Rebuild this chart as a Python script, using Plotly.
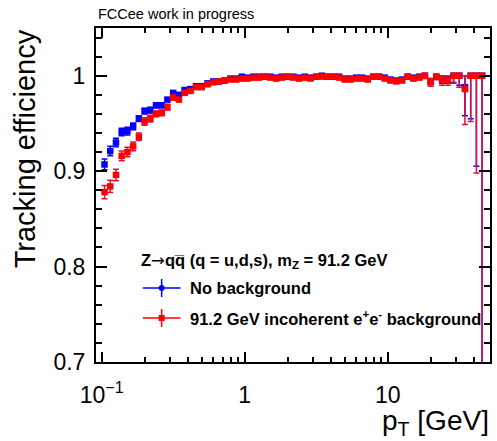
import plotly.graph_objects as go

# ---------------- data ----------------
pt_centers = [0.1047, 0.1148, 0.1259, 0.1380, 0.1514, 0.1660, 0.1820, 0.1995, 0.2188, 0.2399,
              0.2630, 0.2884, 0.3162, 0.3467, 0.3802, 0.4169, 0.4571, 0.5012, 0.5495, 0.6026,
              0.6607, 0.7244, 0.7943, 0.8710, 0.9550, 1.047, 1.148, 1.259, 1.380, 1.514,
              1.660, 1.820, 1.995, 2.188, 2.399, 2.630, 2.884, 3.162, 3.467, 3.802,
              4.169, 4.571, 5.012, 5.495, 6.026, 6.607, 7.244, 7.943, 8.710, 9.550,
              10.47, 11.48, 12.59, 13.80, 15.14, 16.60, 18.20, 19.95, 21.88, 23.99,
              26.30, 28.84, 31.62, 34.67, 38.02, 41.69, 45.71]

eff_nobkg = [0.907, 0.921, 0.930, 0.941, 0.942, 0.947, 0.955, 0.963, 0.964, 0.969,
             0.969, 0.975, 0.982, 0.980, 0.985, 0.986, 0.989, 0.989, 0.992, 0.994,
             0.994, 0.995, 0.997, 0.997, 0.999, 0.998, 0.999, 0.999, 0.999, 0.999,
             0.998, 0.999, 0.999, 0.999, 0.998, 0.999, 0.998, 0.999, 1.000, 0.999,
             0.999, 0.999, 0.997, 0.997, 0.998, 0.998, 0.997, 0.999, 0.999, 0.998,
             0.996, 0.995, 0.996, 0.999, 0.998, 0.999, 1.000, 0.994, 0.999, 0.997,
             0.996, 1.000, 1.000, 0.988, 1.000, 1.000, 1.000]
err_nobkg = [0.0056, 0.005, 0.0045, 0.004, 0.004, 0.0035, 0.003, 0.003, 0.003, 0.0025,
             0.0025, 0.002, 0.002, 0.0015, 0.0015, 0.0015, 0.0015, 0.0015, 0.001, 0.001,
             0.001, 0.001, 0.001, 0.001, 0.001, 0.001, 0.001, 0.001, 0.001, 0.001,
             0.001, 0.001, 0.001, 0.001, 0.001, 0.001, 0.001, 0.001, 0.001, 0.001,
             0.001, 0.001, 0.001, 0.001, 0.001, 0.001, 0.001, 0.001, 0.001, 0.001,
             0.0015, 0.0015, 0.0015, 0.0015, 0.0015, 0.0015, 0.002, 0.003, 0.003, 0.005,
             0.004, 0.007, 0.010, 0.030, 0.045, 0.095, 0.55]

eff_bkg = [0.878, 0.884, 0.896, 0.916, 0.920, 0.926, 0.936, 0.952, 0.955, 0.960,
           0.961, 0.967, 0.977, 0.975, 0.982, 0.984, 0.988, 0.988, 0.991, 0.993,
           0.994, 0.995, 0.996, 0.996, 0.997, 0.997, 0.998, 0.998, 0.999, 0.998,
           0.997, 0.998, 0.999, 0.998, 0.997, 0.998, 0.997, 0.999, 0.999, 0.999,
           0.999, 0.998, 0.996, 0.996, 0.997, 0.997, 0.996, 0.999, 0.999, 0.997,
           0.995, 0.994, 0.995, 0.999, 0.997, 0.998, 1.000, 0.993, 0.999, 0.996,
           0.995, 1.000, 1.000, 0.986, 1.000, 1.000, 1.000]
err_bkg = [0.007, 0.0065, 0.006, 0.005, 0.005, 0.0045, 0.004, 0.004, 0.0035, 0.003,
           0.003, 0.003, 0.0025, 0.002, 0.002, 0.002, 0.002, 0.002, 0.0015, 0.0015,
           0.0015, 0.0015, 0.0015, 0.0015, 0.0015, 0.0015, 0.0015, 0.0015, 0.0015, 0.0015,
           0.0015, 0.0015, 0.0015, 0.0015, 0.0015, 0.0015, 0.0015, 0.0015, 0.0015, 0.0015,
           0.0015, 0.0015, 0.0015, 0.0015, 0.0015, 0.0015, 0.0015, 0.0015, 0.0015, 0.0015,
           0.002, 0.002, 0.002, 0.002, 0.002, 0.002, 0.003, 0.004, 0.003, 0.006,
           0.005, 0.008, 0.012, 0.037, 0.048, 0.102, 0.6]

x_tickvals = [0.1, 1, 10]
x_ticktext = ["10<sup>\u22121</sup>", "1", "10"]
x_minorvals = [0.2, 0.3, 0.4, 0.5, 0.6, 0.7, 0.8, 0.9, 2, 3, 4, 5, 6, 7, 8, 9, 20, 30, 40]
y_tickvals = [0.7, 0.8, 0.9, 1.0]
y_ticktext = ["0.7", "0.8", "0.9", "1"]

series_names = ["No background", "91.2 GeV incoherent e<sup>+</sup>e<sup>-</sup> background"]
header_text = ("Z<span style=\"font-family:DejaVu Sans;font-weight:normal\">\u2192</span>"
               "qq\u0305 (q = u,d,s), m<sub>Z</sub> = 91.2 GeV")

# ---------------- layout geometry ----------------
W, H = 497, 441
L, R, T, B = 96, 5, 28, 79
PW, PH = W - L - R, H - T - B
FONT = "Liberation Sans, Arial, Helvetica, sans-serif"


def px(x):
    return (x - L) / PW


def py(y):
    return (H - B - y) / PH


def upper(vals, errs):
    return [min(e, max(0.0, 1.0 - v)) for v, e in zip(vals, errs)]


fig = go.Figure()
fig.add_trace(go.Scatter(
    x=pt_centers, y=eff_nobkg, mode="markers", name=series_names[0],
    marker=dict(symbol="square", size=6.5, color="#0000ff"),
    error_y=dict(type="data", array=upper(eff_nobkg, err_nobkg), arrayminus=err_nobkg,
                 symmetric=False, color="#0000ff", thickness=1.5, width=3),
    showlegend=False, cliponaxis=True))
fig.add_trace(go.Scatter(
    x=pt_centers, y=eff_bkg, mode="markers", name=series_names[1],
    marker=dict(symbol="square", size=6.5, color="#ff0000"),
    error_y=dict(type="data", array=upper(eff_bkg, err_bkg), arrayminus=err_bkg,
                 symmetric=False, color="#e0103c", thickness=1.5, width=3),
    showlegend=False, cliponaxis=True))

shapes = []
annotations = []

# manual ROOT-style legend
leg_rows = [(288, "#0000ff", "circle", series_names[0]), (318, "#ff0000", "rect", series_names[1])]
for yy, col, mk, label in leg_rows:
    shapes.append(dict(type="line", xref="paper", yref="paper", x0=px(143), x1=px(181),
                       y0=py(yy), y1=py(yy), line=dict(color=col, width=1.5)))
    shapes.append(dict(type="line", xref="paper", yref="paper", x0=px(162), x1=px(162),
                       y0=py(yy - 9), y1=py(yy + 9), line=dict(color=col, width=1.5)))
    shapes.append(dict(type=mk, xref="paper", yref="paper", x0=px(159), x1=px(165),
                       y0=py(yy - 3), y1=py(yy + 3), fillcolor=col, line=dict(color=col, width=0)))
    annotations.append(dict(text="<b>" + label + "</b>", xref="paper", yref="paper",
                            x=px(188), y=py(yy), xanchor="left", yanchor="middle", showarrow=False,
                            font=dict(family=FONT, size=16.5, color="black")))
annotations.append(dict(text="<b>" + header_text + "</b>", xref="paper", yref="paper",
                        x=px(139), y=py(261), xanchor="left", yanchor="middle", showarrow=False,
                        font=dict(family=FONT, size=16.5, color="black")))

# top label
annotations.append(dict(text="FCCee work in progress", xref="paper", yref="paper",
                        x=px(96), y=py(14), xanchor="left", yanchor="middle", showarrow=False,
                        font=dict(family=FONT, size=14.5, color="black")))
# axis titles
annotations.append(dict(text="Tracking efficiency", xref="paper", yref="paper",
                        x=px(25), y=py(149), xanchor="center", yanchor="middle", textangle=-90,
                        showarrow=False, font=dict(family=FONT, size=29, color="black")))
annotations.append(dict(text="p<sub>T</sub> [GeV]", xref="paper", yref="paper",
                        x=px(493), y=py(422), xanchor="right", yanchor="middle",
                        showarrow=False, font=dict(family=FONT, size=28, color="black")))

fig.update_layout(
    width=W, height=H,
    margin=dict(l=L, r=R, t=T, b=B, pad=0),
    paper_bgcolor="white", plot_bgcolor="white",
    font=dict(family=FONT, color="black"),
    shapes=shapes, annotations=annotations,
    showlegend=False,
    xaxis=dict(type="log", range=[-1.0396, 1.715], showgrid=False, zeroline=False,
               showline=True, linecolor="black", linewidth=2, mirror="ticks",
               ticks="inside", ticklen=10, tickwidth=1.5, tickcolor="black",
               tickvals=x_tickvals, ticktext=x_ticktext, ticklabelstandoff=11,
               tickfont=dict(family=FONT, size=23, color="black"),
               minor=dict(tickvals=x_minorvals, ticks="inside", ticklen=5, tickwidth=1.5,
                          tickcolor="black", showgrid=False)),
    yaxis=dict(range=[0.7, 1.05], showgrid=False, zeroline=False,
               showline=True, linecolor="black", linewidth=2, mirror="ticks",
               ticks="inside", ticklen=11, tickwidth=1.5, tickcolor="black",
               tickvals=y_tickvals, ticktext=y_ticktext, ticklabelstandoff=4,
               tickfont=dict(family=FONT, size=23, color="black"),
               minor=dict(dtick=0.02, tick0=0.7, ticks="inside", ticklen=6, tickwidth=1.5,
                          tickcolor="black", showgrid=False)),
)

fig.write_html("out.html")
